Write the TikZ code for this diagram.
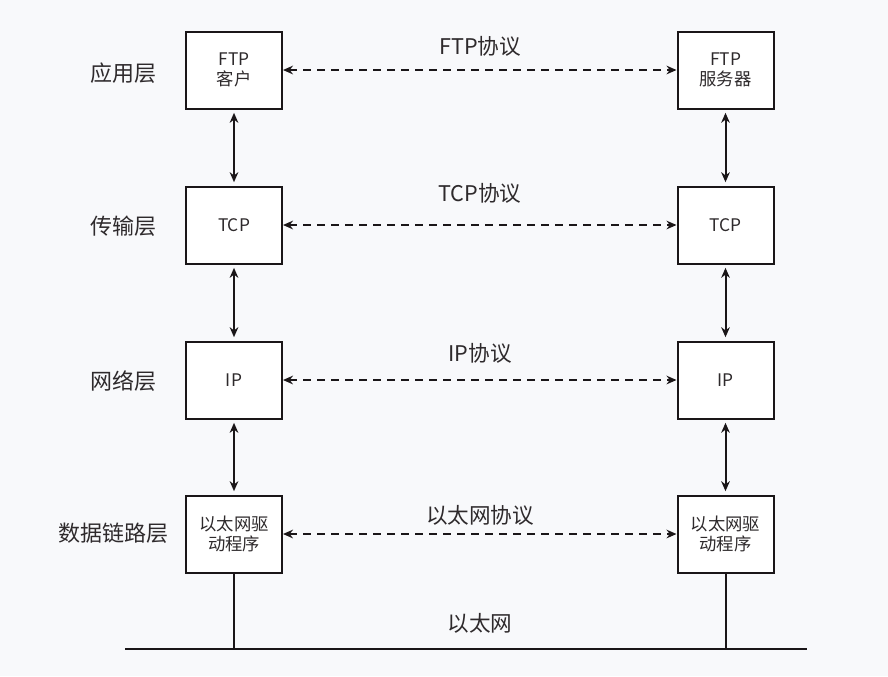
\documentclass[tikz,border=0pt]{standalone}
\usepackage{fontspec}
\setmainfont{Noto Sans CJK SC}
\usetikzlibrary{arrows.meta}
\definecolor{bg}{HTML}{F8F9FB}
\definecolor{ink}{HTML}{1A1618}
\definecolor{txt}{HTML}{2E2A2C}
\begin{document}
\begin{tikzpicture}[x=0.75pt,y=-0.75pt,
  layerbox/.style={draw=ink, line width=1.5pt, fill=white, minimum width=72pt, minimum height=57.75pt, inner sep=0pt, align=center, text=txt, font=\fontsize{13}{15}\selectfont},
  layertitle/.style={text=txt, font=\fontsize{16.5}{19}\selectfont, inner sep=0pt},
  protolabel/.style={text=txt, font=\fontsize{16.2}{19}\selectfont, inner sep=0pt},
  vlink/.style={ink, line width=1.5pt, {Stealth[length=7.5pt,width=6.5pt]}-{Stealth[length=7.5pt,width=6.5pt]}, shorten <=2.5pt, shorten >=2.5pt},
  hlink/.style={ink, line width=1.5pt, dash pattern=on 6pt off 4.5pt, {Stealth[length=7.5pt,width=6.5pt]}-{Stealth[length=7.5pt,width=6.5pt]}},
  wire/.style={ink, line width=1.5pt}
]
\fill[bg] (0,0) rectangle (888,676);
\useasboundingbox (0,0) rectangle (888,676);

% layer titles
\node[layertitle] (t1) at (123,73) {应用层};
\node[layertitle] (t2) at (123,226) {传输层};
\node[layertitle] (t3) at (123,381) {网络层};
\node[layertitle] (t4) at (113,533) {数据链路层};

% boxes
\node[layerbox] (L1) at (234,70) {FTP\\客户};
\node[layerbox] (R1) at (725.5,70) {FTP\\服务器};
\node[layerbox] (L2) at (234,225) {TCP};
\node[layerbox] (R2) at (725.5,225) {TCP};
\node[layerbox] (L3) at (234,380) {IP};
\node[layerbox] (R3) at (725.5,380) {IP};
\node[layerbox] (L4) at (234,534) {以太网驱\\动程序};
\node[layerbox] (R4) at (725.5,534) {以太网驱\\动程序};

% protocol labels
\node[protolabel] (p1) at (480,46) {FTP协议};
\node[protolabel] (p2) at (480,193) {TCP协议};
\node[protolabel] (p3) at (480,353) {IP协议};
\node[protolabel] (p4) at (480,515) {以太网协议};
\node[protolabel] (p5) at (480,623) {以太网};

% vertical links
\draw[vlink] (L1.south) -- (L2.north);
\draw[vlink] (L2.south) -- (L3.north);
\draw[vlink] (L3.south) -- (L4.north);
\draw[vlink] (R1.south) -- (R2.north);
\draw[vlink] (R2.south) -- (R3.north);
\draw[vlink] (R3.south) -- (R4.north);

% horizontal peer links
\draw[hlink] (L1.east) -- (R1.west);
\draw[hlink] (L2.east) -- (R2.west);
\draw[hlink] (L3.east) -- (R3.west);
\draw[hlink] (L4.east) -- (R4.west);

% ethernet bus
\coordinate (gl) at (125,649);
\coordinate (gr) at (807,649);
\draw[wire] (gl) -- (gr);
\draw[wire] (L4.south) -- (L4.south |- gl);
\draw[wire] (R4.south) -- (R4.south |- gl);
\end{tikzpicture}
\end{document}
